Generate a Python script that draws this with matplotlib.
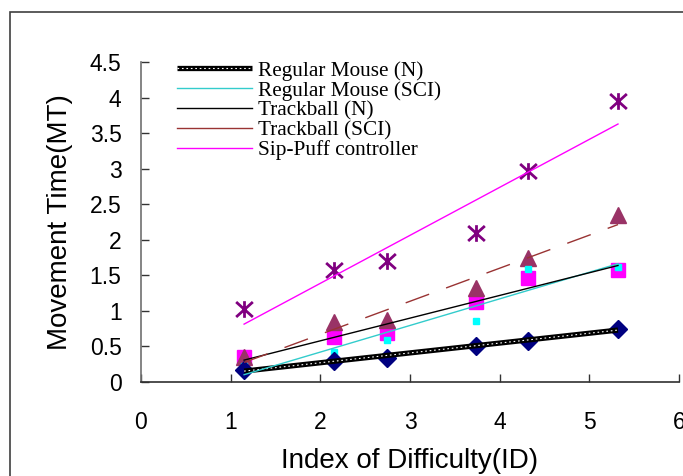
import matplotlib.pyplot as plt
from matplotlib.lines import Line2D
from matplotlib.patches import Rectangle
from matplotlib.path import Path
import numpy as np

# values
index_of_difficulty = [1.15, 2.15, 2.74, 3.74, 4.32, 5.32]
mouse_n = [0.17, 0.30, 0.34, 0.51, 0.58, 0.75]
mouse_sci = [0.22, 0.42, 0.59, 0.86, 1.59, 1.62]
trackball_n = [0.35, 0.63, 0.69, 1.13, 1.46, 1.58]
trackball_sci = [0.35, 0.84, 0.87, 1.32, 1.74, 2.35]
sip_puff = [1.03, 1.58, 1.70, 2.10, 2.97, 3.95]

series_labels = ["Regular Mouse (N)", "Regular Mouse (SCI)", "Trackball (N)",
                 "Trackball (SCI)", "Sip-Puff controller"]
x_ticks = [0, 1, 2, 3, 4, 5, 6]
y_ticks = [0, 0.5, 1, 1.5, 2, 2.5, 3, 3.5, 4, 4.5]


def trendline(x, y):
    """ Linear least squares fit, evaluated at the ends of the data """
    fit = np.polyfit(x, y, 1)
    xs = np.array([min(x), max(x)])
    return xs, np.polyval(fit, xs)


# excel style star: a vertical bar with an X over it
star = Path([(0, -1), (0, 1), (-1, -0.9), (1, 0.9), (-1, 0.9), (1, -0.9)],
            [Path.MOVETO, Path.LINETO, Path.MOVETO, Path.LINETO,
             Path.MOVETO, Path.LINETO])

plt.rcParams['font.family'] = 'Liberation Sans'

fig = plt.figure(figsize=(6.83, 4.76), dpi=100)
ax = fig.add_axes([0.2064, 0.1975, 0.7877, 0.6723])

# markers
ax.plot(index_of_difficulty, trackball_n, 's', color='#FF00FF', ms=10.5, zorder=2)
ax.plot(index_of_difficulty, trackball_sci, '^', color='#993366', ms=12, zorder=2)
ax.plot(index_of_difficulty, mouse_sci, 's', color='#00FFFF', ms=5, zorder=2)
ax.plot(index_of_difficulty, mouse_n, 'D', color='#000080', ms=9, zorder=2)
ax.plot(index_of_difficulty, sip_puff, marker=star, ls='none', color='#800080',
        ms=12, mew=2, zorder=2)

# trend lines
xs, ys = trendline(index_of_difficulty, mouse_n)
ax.plot(xs, ys, color='black', lw=3.8, solid_capstyle='butt', zorder=3)
ax.plot(xs, ys, color='white', lw=0.8, ls=(0, (1.5, 2.5)), zorder=3)
xs, ys = trendline(index_of_difficulty, mouse_sci)
ax.plot(xs, ys, color='#33CCCC', lw=1, zorder=3)
xs, ys = trendline(index_of_difficulty, trackball_n)
ax.plot(xs, ys, color='black', lw=1, zorder=3)
xs, ys = trendline(index_of_difficulty, trackball_sci)
ax.plot(xs, ys, color='#993333', lw=1, ls=(0, (18, 13)), zorder=3)
xs, ys = trendline(index_of_difficulty, sip_puff)
ax.plot(xs, ys, color='#FF00FF', lw=1, zorder=3)

ax.set_xlim(0, 6)
ax.set_ylim(0, 4.5)
ax.set_xticks(x_ticks)
ax.set_yticks(y_ticks)
ax.set_yticklabels([("%g" % v) for v in y_ticks])
ax.tick_params(axis='x', direction='in', length=6, width=1, pad=21,
               labelsize=16.5, color='#333333')
ax.tick_params(axis='y', direction='in', length=6, width=1, pad=14,
               labelsize=16.5, color='#333333')
for side in ['top', 'right']:
    ax.spines[side].set_visible(False)
ax.spines['left'].set_color('#707070')
ax.spines['bottom'].set_color('#303030')
ax.spines['left'].set_linewidth(1.2)
ax.spines['bottom'].set_linewidth(1.2)

ax.set_xlabel("Index of Difficulty(ID)", fontsize=20, labelpad=10)
ax.set_ylabel("Movement Time(MT)", fontsize=20, labelpad=12)

# legend shows the trend lines only
handles = [
    (Line2D([], [], color='black', lw=3.8, solid_capstyle='butt'),
     Line2D([], [], color='white', lw=0.8, ls=(0, (1.5, 2.5)))),
    Line2D([], [], color='#33CCCC', lw=1),
    Line2D([], [], color='black', lw=1),
    Line2D([], [], color='#993333', lw=1),
    Line2D([], [], color='#FF00FF', lw=1),
]
fig.legend(handles, series_labels, loc='upper left',
           bbox_to_anchor=(177 / 683, 1 - 61 / 476), frameon=False,
           prop={'family': 'Liberation Serif', 'size': 15.3},
           handlelength=3.55, handletextpad=0.25, labelspacing=0.0,
           borderpad=0, borderaxespad=0)

# outer chart frame, cut off at the right and bottom
fig.patches.append(Rectangle((10 / 683, -0.1), 1.2, (476 - 12) / 476 + 0.1,
                             transform=fig.transFigure, fill=False,
                             ec='#404040', lw=1.2))

fig.savefig('out.png', dpi=100)
